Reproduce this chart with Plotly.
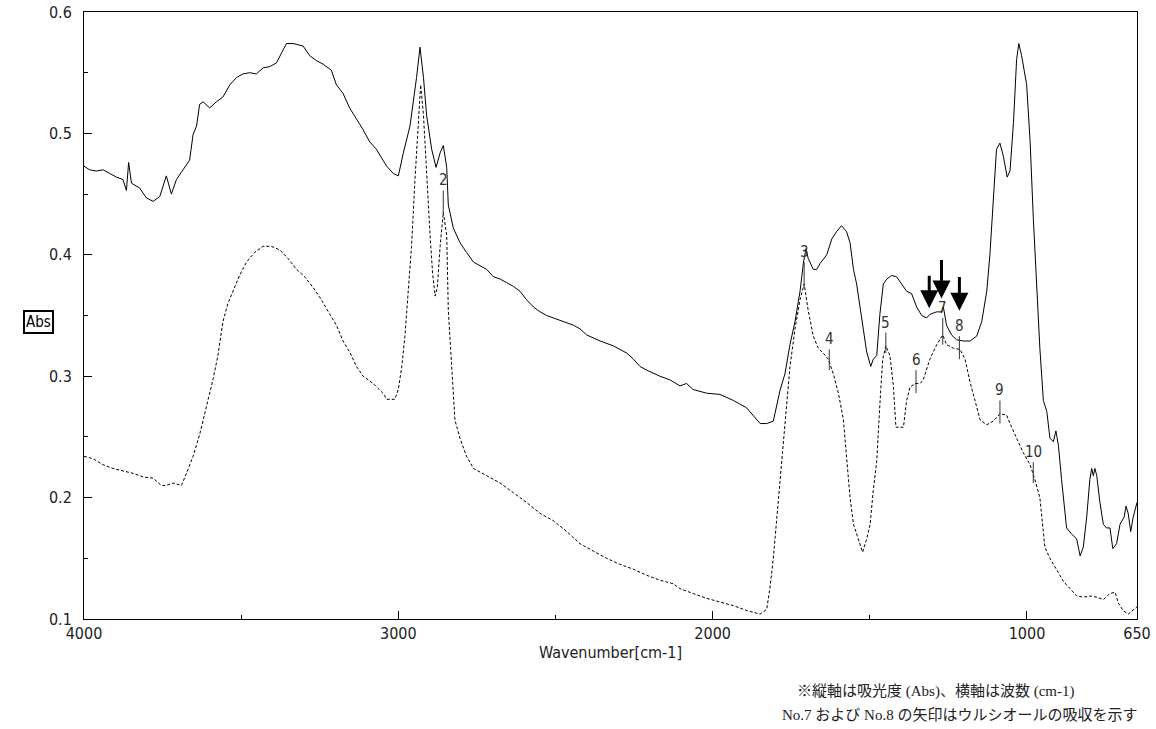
import plotly.graph_objects as go

# === Spectrum data ===
solid_wn = [4000, 3982, 3961, 3939, 3918, 3897, 3876, 3865, 3858, 3849, 3823, 3802, 3780, 3759, 3738,
            3722, 3706, 3685, 3664, 3653, 3642, 3632, 3621, 3600, 3579, 3558, 3536, 3515, 3494, 3473,
            3452, 3430, 3409, 3388, 3367, 3356, 3335, 3303, 3282, 3261, 3239, 3213, 3197, 3176, 3155,
            3133, 3112, 3091, 3070, 3049, 3037, 3016, 3000, 2984, 2963, 2942, 2931, 2920, 2910, 2894,
            2880, 2867, 2857, 2846, 2841, 2825, 2804, 2783, 2761, 2740, 2719, 2698, 2676, 2655, 2634,
            2613, 2592, 2570, 2549, 2528, 2486, 2443, 2422, 2401, 2358, 2316, 2273, 2252, 2231, 2210,
            2168, 2136, 2104, 2083, 2062, 2019, 1977, 1934, 1892, 1849, 1828, 1807, 1786, 1770, 1754,
            1738, 1722, 1711, 1703, 1696, 1680, 1669, 1658, 1637, 1621, 1606, 1590, 1574, 1563, 1552,
            1542, 1531, 1521, 1510, 1497, 1489, 1478, 1468, 1457, 1446, 1431, 1415, 1399, 1383, 1367,
            1351, 1335, 1319, 1309, 1287, 1271, 1266, 1256, 1240, 1224, 1202, 1181, 1160, 1144, 1128,
            1118, 1107, 1097, 1086, 1075, 1063, 1054, 1043, 1033, 1026, 1017, 1001, 990, 980, 969,
            959, 948, 937, 927, 916, 908, 900, 890, 874, 858, 842, 831, 821, 810, 800,
            794, 789, 784, 778, 768, 757, 747, 736, 727, 715, 704, 691, 685, 678, 670,
            662, 653, 650]
solid_abs = [0.473, 0.470, 0.469, 0.470, 0.467, 0.464, 0.462, 0.453, 0.476, 0.459, 0.455, 0.447, 0.444, 0.448, 0.465,
             0.450, 0.462, 0.470, 0.478, 0.499, 0.506, 0.524, 0.526, 0.521, 0.526, 0.530, 0.540, 0.546, 0.549, 0.550,
             0.549, 0.554, 0.555, 0.558, 0.569, 0.574, 0.574, 0.572, 0.564, 0.560, 0.557, 0.552, 0.540, 0.533, 0.521,
             0.512, 0.503, 0.493, 0.487, 0.478, 0.473, 0.467, 0.465, 0.484, 0.506, 0.546, 0.571, 0.546, 0.515, 0.487,
             0.472, 0.484, 0.490, 0.472, 0.441, 0.422, 0.410, 0.402, 0.394, 0.391, 0.388, 0.382, 0.380, 0.377, 0.374,
             0.370, 0.363, 0.357, 0.353, 0.350, 0.346, 0.342, 0.339, 0.334, 0.329, 0.325, 0.319, 0.314, 0.308, 0.305,
             0.300, 0.297, 0.292, 0.294, 0.289, 0.286, 0.285, 0.280, 0.274, 0.261, 0.261, 0.263, 0.288, 0.302, 0.326,
             0.345, 0.370, 0.394, 0.405, 0.397, 0.388, 0.388, 0.393, 0.400, 0.413, 0.419, 0.424, 0.419, 0.410, 0.388,
             0.376, 0.357, 0.339, 0.320, 0.308, 0.314, 0.317, 0.351, 0.376, 0.380, 0.383, 0.382, 0.376, 0.370, 0.368,
             0.357, 0.350, 0.348, 0.351, 0.353, 0.353, 0.357, 0.342, 0.334, 0.330, 0.329, 0.329, 0.333, 0.345, 0.370,
             0.400, 0.447, 0.487, 0.492, 0.481, 0.464, 0.469, 0.509, 0.561, 0.574, 0.564, 0.540, 0.493, 0.431, 0.370,
             0.323, 0.280, 0.271, 0.249, 0.246, 0.255, 0.243, 0.215, 0.175, 0.170, 0.166, 0.152, 0.159, 0.184, 0.215,
             0.224, 0.218, 0.224, 0.218, 0.196, 0.178, 0.175, 0.175, 0.158, 0.162, 0.178, 0.184, 0.193, 0.187, 0.172,
             0.184, 0.193, 0.196]

dashed_wn = [4000, 3971, 3939, 3908, 3876, 3844, 3812, 3780, 3754, 3738, 3717, 3690, 3674, 3653, 3632,
             3611, 3589, 3574, 3558, 3542, 3526, 3505, 3483, 3457, 3430, 3404, 3377, 3351, 3324, 3298,
             3271, 3245, 3218, 3197, 3176, 3155, 3133, 3112, 3080, 3049, 3037, 3011, 3000, 2989, 2979,
             2968, 2958, 2947, 2936, 2929, 2920, 2910, 2899, 2891, 2883, 2876, 2867, 2857, 2846, 2841,
             2830, 2820, 2804, 2783, 2761, 2719, 2676, 2634, 2592, 2549, 2507, 2464, 2422, 2380, 2337,
             2295, 2252, 2210, 2168, 2125, 2104, 2062, 2019, 1977, 1934, 1892, 1849, 1828, 1818, 1807,
             1796, 1786, 1775, 1765, 1754, 1738, 1722, 1709, 1696, 1680, 1664, 1648, 1632, 1616, 1600,
             1584, 1574, 1563, 1552, 1537, 1523, 1510, 1499, 1489, 1478, 1468, 1459, 1449, 1436, 1425,
             1417, 1404, 1393, 1383, 1372, 1356, 1340, 1330, 1309, 1287, 1268, 1256, 1234, 1213, 1197,
             1181, 1165, 1149, 1128, 1107, 1086, 1065, 1049, 1033, 1012, 990, 975, 959, 943, 927,
             906, 884, 863, 842, 821, 800, 778, 757, 736, 720, 709, 694, 678, 662, 650]
dashed_abs = [0.234, 0.232, 0.227, 0.224, 0.222, 0.220, 0.217, 0.216, 0.210, 0.210, 0.212, 0.210, 0.220, 0.234, 0.252,
              0.274, 0.298, 0.317, 0.345, 0.360, 0.370, 0.383, 0.394, 0.402, 0.407, 0.407, 0.404, 0.397, 0.388, 0.382,
              0.373, 0.363, 0.351, 0.342, 0.329, 0.320, 0.308, 0.300, 0.294, 0.286, 0.281, 0.281, 0.289, 0.308, 0.333,
              0.370, 0.407, 0.462, 0.509, 0.540, 0.515, 0.462, 0.416, 0.385, 0.366, 0.373, 0.407, 0.435, 0.416, 0.354,
              0.308, 0.264, 0.249, 0.234, 0.224, 0.218, 0.212, 0.204, 0.196, 0.187, 0.181, 0.172, 0.162, 0.156, 0.150,
              0.145, 0.141, 0.136, 0.132, 0.129, 0.125, 0.121, 0.117, 0.114, 0.111, 0.107, 0.104, 0.108, 0.125, 0.150,
              0.184, 0.215, 0.246, 0.277, 0.308, 0.339, 0.363, 0.376, 0.354, 0.333, 0.323, 0.319, 0.314, 0.302, 0.286,
              0.264, 0.230, 0.200, 0.178, 0.166, 0.155, 0.166, 0.178, 0.206, 0.230, 0.277, 0.314, 0.325, 0.317, 0.292,
              0.258, 0.258, 0.258, 0.280, 0.291, 0.294, 0.294, 0.297, 0.314, 0.326, 0.334, 0.326, 0.323, 0.322, 0.314,
              0.295, 0.280, 0.264, 0.260, 0.263, 0.269, 0.268, 0.258, 0.249, 0.237, 0.227, 0.215, 0.200, 0.159, 0.150,
              0.141, 0.131, 0.125, 0.119, 0.118, 0.119, 0.118, 0.116, 0.121, 0.122, 0.113, 0.107, 0.104, 0.107, 0.110]

# === Peak markers (number, wavenumber, tick top / bottom) ===
peak_no = ["2", "3", "4", "5", "6", "7", "8", "9", "10"]
peak_wn = [2857, 1709, 1629, 1449, 1353, 1268, 1215, 1086, 980]
peak_top = [0.453, 0.394, 0.322, 0.336, 0.305, 0.348, 0.333, 0.280, 0.229]
peak_bot = [0.433, 0.373, 0.305, 0.319, 0.286, 0.326, 0.314, 0.261, 0.212]

# === Urushiol arrows ===
arrow_wn = [1311, 1272, 1215]
arrow_tail = [0.384, 0.397, 0.383]
arrow_head = [0.356, 0.364, 0.354]

x_ticks = [4000, 3000, 2000, 1000, 650]
y_ticks = [0.1, 0.2, 0.3, 0.4, 0.5, 0.6]

TICK_FONT = "Liberation Sans Narrow, DejaVu Sans Condensed, Noto Sans CJK JP, sans-serif"
NOTE_FONT = "Liberation Serif, Noto Sans CJK JP, serif"

W, H = 1156, 729
L, R, T, B = 84, 19, 12, 110


def page_to_paper(px, py):
    return (px - L) / (W - L - R), (H - B - py) / (H - T - B)


fig = go.Figure()

fig.add_trace(go.Scatter(x=solid_wn, y=solid_abs, mode="lines",
                         line=dict(color="black", width=1), hoverinfo="skip"))
fig.add_trace(go.Scatter(x=dashed_wn, y=dashed_abs, mode="lines",
                         line=dict(color="black", width=1, dash="3px,2px"), hoverinfo="skip"))

# short vertical ticks at the numbered peaks
tick_x, tick_y = [], []
for w, t, b in zip(peak_wn, peak_top, peak_bot):
    tick_x += [w, w, None]
    tick_y += [t, b, None]
fig.add_trace(go.Scatter(x=tick_x, y=tick_y, mode="lines",
                         line=dict(color="#333", width=1), hoverinfo="skip"))

annotations = []
for n, w, t in zip(peak_no, peak_wn, peak_top):
    annotations.append(dict(x=w, y=t, text=n, showarrow=False, yanchor="bottom", yshift=-1,
                            font=dict(family=TICK_FONT, size=15, color="#333")))

for w, t, h in zip(arrow_wn, arrow_tail, arrow_head):
    annotations.append(dict(x=w, y=h, ax=w, ay=t, axref="x", ayref="y", text="",
                            showarrow=True, arrowhead=2, arrowsize=1.2, arrowwidth=3,
                            arrowcolor="black"))

ax_, ay_ = page_to_paper(23, 322)
annotations.append(dict(text="Abs", x=ax_, y=ay_, xref="paper", yref="paper", showarrow=False,
                        font=dict(family=TICK_FONT, size=15, color="black"),
                        bordercolor="black", borderwidth=2, borderpad=1))
nx1, ny1 = page_to_paper(795, 691)
annotations.append(dict(text="※縦軸は吸光度 (Abs)、横軸は波数 (cm-1)", x=nx1, y=ny1,
                        xref="paper", yref="paper", showarrow=False, xanchor="left", yanchor="middle",
                        font=dict(family=NOTE_FONT, size=15, color="#222")))
nx2, ny2 = page_to_paper(780, 715)
annotations.append(dict(text="No.7 および No.8 の矢印はウルシオールの吸収を示す", x=nx2, y=ny2,
                        xref="paper", yref="paper", showarrow=False, xanchor="left", yanchor="middle",
                        font=dict(family=NOTE_FONT, size=15, color="#222")))

fig.update_layout(
    width=W, height=H,
    margin=dict(l=L, r=R, t=T, b=B),
    paper_bgcolor="white", plot_bgcolor="white",
    showlegend=False,
    annotations=annotations,
    xaxis=dict(
        range=[4000, 650], tickvals=x_ticks, ticktext=[str(v) for v in x_ticks],
        ticks="inside", ticklen=8, tickcolor="black", tickwidth=1,
        minor=dict(tickvals=[3500, 2500, 1500], ticks="inside", ticklen=4, tickcolor="black"),
        showline=True, linecolor="black", linewidth=1, mirror=True,
        showgrid=False, zeroline=False, automargin=False, ticklabeloverflow="allow",
        tickfont=dict(family=TICK_FONT, size=16, color="#222"),
        title=dict(text="Wavenumber[cm-1]", font=dict(family=TICK_FONT, size=16, color="#222"),
                   standoff=4),
    ),
    yaxis=dict(
        range=[0.1, 0.6], tickvals=y_ticks, ticktext=[f"{v:.1f}" for v in y_ticks],
        ticks="inside", ticklen=8, tickcolor="black", tickwidth=1,
        minor=dict(dtick=0.05, ticks="inside", ticklen=4, tickcolor="black"),
        showline=True, linecolor="black", linewidth=1, mirror=True,
        showgrid=False, zeroline=False, automargin=False, ticklabeloverflow="allow",
        tickfont=dict(family=TICK_FONT, size=16, color="#222"),
        ticklabelstandoff=8,
    ),
)

# drop the default 8px page margin so the figure fills the window exactly
fig.write_html("out.html", config={"displayModeBar": False},
               post_script="document.body.style.margin='0';")
